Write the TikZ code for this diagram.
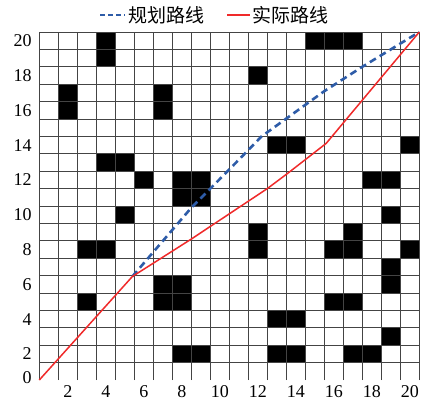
\documentclass[tikz,border=0pt]{standalone}
\usepackage{fontspec}
\setmainfont{Liberation Serif}
\newfontfamily\cjk{Noto Sans CJK SC}
\definecolor{planblue}{HTML}{2E5CA8}
\definecolor{realred}{HTML}{F02A2A}
\definecolor{gridc}{HTML}{444444}
\begin{document}
\begin{tikzpicture}[x=1pt,y=1pt,
  obst/.style={fill=black,draw=none},
  gridline/.style={draw=gridc,line width=0.7pt},
  planpath/.style={draw=planblue,line width=2.6pt,dash pattern=on 7pt off 4.5pt},
  realpath/.style={draw=realred,line width=1.5pt,line join=round},
  ticklab/.style={font=\fontsize{18}{18}\selectfont,inner sep=0pt},
  leglab/.style={font=\cjk\fontsize{19}{19}\selectfont,inner sep=0pt,anchor=west}]
\useasboundingbox (0,0) rectangle (425,400);
\fill[white] (0,0) rectangle (425,400);
\begin{scope}[shift={(39.3,20)},x=19pt,y=17.4pt]
  % obstacles
  \foreach \a/\b/\c/\d in {3/18/4/20,14/19/17/20,11/17/12/18,1/15/2/17,6/15/7/17,
    12/13/14/14,19/13/20/14,3/12/5/13,5/11/6/12,7/10/9/12,17/11/19/12,
    4/9/5/10,18/9/19/10,11/7/12/9,16/7/17/9,15/7/16/8,2/7/4/8,19/7/20/8,
    18/5/19/7,6/4/8/6,2/4/3/5,15/4/17/5,12/3/14/4,18/2/19/3,7/1/9/2,
    12/1/14/2,16/1/18/2}
    \fill[obst] (\a,\b) rectangle (\c,\d);
  % grid
  \foreach \i in {0,...,20} \draw[gridline] (\i,0) -- (\i,20);
  \foreach \j in {1,...,20} \draw[gridline] (0,\j) -- (20,\j);
  % tick labels
  \node[ticklab,anchor=east] (y0) at (-0.4,0.15) {0};
  \foreach \k in {2,4,...,20}
    \node[ticklab,anchor=east] (y\k) at (-0.4,\k-0.5) {\k};
  \foreach \k in {2,4,...,20}
    \node[ticklab,anchor=base] (x\k) at (\k-0.5,-1.0) {\k};
  % path points
  \coordinate (s) at (0,0);
  \coordinate (k) at (4.9,5.95);
  \coordinate (r1) at (8,8.1);
  \coordinate (r2) at (10,9.55);
  \coordinate (r3) at (12,11);
  \coordinate (r4) at (13.1,11.9);
  \coordinate (r5) at (15.1,13.6);
  \coordinate (g) at (20,20);
  \coordinate (p1) at (8,9.9);
  \coordinate (p2) at (10,12.1);
  \coordinate (p3) at (11.7,14);
  \coordinate (p4) at (15,16.6);
  \coordinate (p5) at (17,18);
  \draw[planpath] (k) -- (p1) -- (p2) -- (p3) -- (p4) -- (p5) -- (g);
  \draw[realpath] (s) -- (k) -- (r1) -- (r2) -- (r3) -- (r4) -- (r5) -- (g);
\end{scope}
% legend
\coordinate (lb1) at (100,385);
\coordinate (lb2) at (125,385);
\draw[draw=planblue,line width=2.4pt,dash pattern=on 5pt off 3pt] (lb1) -- (lb2);
\node[leglab] (lt1) at (128,385) {规划路线};
\coordinate (lr1) at (227,385);
\coordinate (lr2) at (250,385);
\draw[realpath] (lr1) -- (lr2);
\node[leglab] (lt2) at (252,385) {实际路线};
\end{tikzpicture}
\end{document}
